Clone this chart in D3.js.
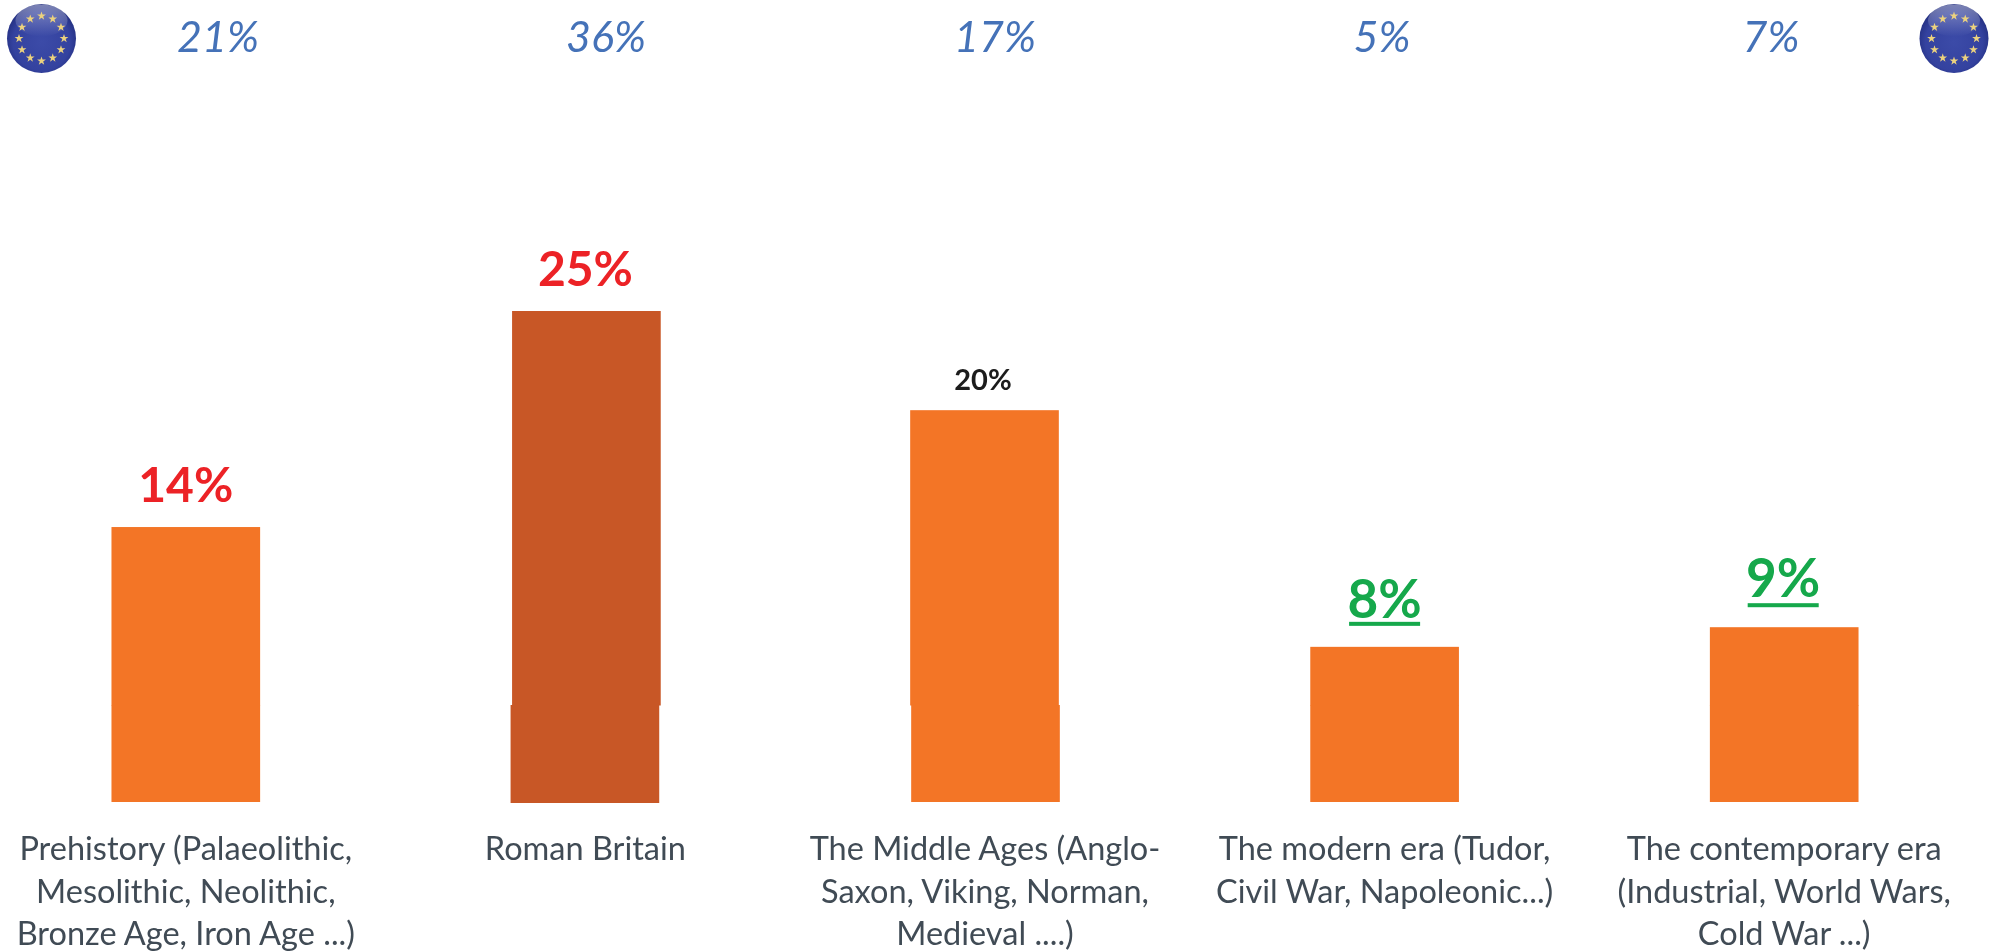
<!DOCTYPE html>
<html><head><meta charset="utf-8">
<style>html,body{margin:0;padding:0;background:#fff}svg{display:block}</style>
<script src="https://cdn.jsdelivr.net/npm/d3@7/dist/d3.min.js"></script>
</head><body><svg id="c" width="1998" height="952"></svg>
<script>
const categories = ["Prehistory","Roman Britain","The Middle Ages","The modern era","The contemporary era"];
const ukLabels = [14,25,20,8,9];
const ukHeights = [14,25,19.95,7.9,8.9];
const euValues = [21,36,17,5,7];
const categoryLabels = [
  ["Prehistory (Palaeolithic,","Mesolithic, Neolithic,","Bronze Age, Iron Age ...)"],
  ["Roman Britain"],
  ["The Middle Ages (Anglo-","Saxon, Viking, Norman,","Medieval ....)"],
  ["The modern era (Tudor,","Civil War, Napoleonic...)"],
  ["The contemporary era","(Industrial, World Wars,","Cold War ...)"]
];

const svg = d3.select("#c");
const baseY = 802;
const x = d3.scaleBand().domain(categories).range([-14,1984]).paddingInner(0.628).paddingOuter(0.314);
const y = d3.scaleLinear().domain([0,25]).range([baseY,311]);
const seamY = 705;

const labelStyle = [
  {fill:"#ec2227",size:48,gap:25,dx:0,ul:0},
  {fill:"#ec2227",size:48,gap:25,dx:0,ul:0},
  {fill:"#1a1a1a",size:29,gap:20,dx:-2,ul:0},
  {fill:"#12a84b",size:53,gap:29,dx:0,ul:23},
  {fill:"#12a84b",size:53,gap:30,dx:-1,ul:22}
];
const barFill = (d,i)=> i===1 ? "#c85726" : "#f37526";
const euCenters = [218,606,995,1382,1771];
const upperShift = [0,1,-0.5,0,0];
const lowerShift = [0,-0.5,0.5,0,0];

const defs = svg.append("defs");
const soft = defs.append("filter").attr("id","soft").attr("x","-5%").attr("y","-5%").attr("width","110%").attr("height","110%");
soft.append("feGaussianBlur").attr("stdDeviation",0.7);
const grad = defs.append("radialGradient").attr("id","flag").attr("cx","50%").attr("cy","55%").attr("r","55%");
grad.selectAll("stop").data([[0,"#3c4ba8"],[0.75,"#34429f"],[1,"#232f80"]]).join("stop")
  .attr("offset",d=>d[0]).attr("stop-color",d=>d[1]);
const gloss = defs.append("linearGradient").attr("id","gloss").attr("x1",0).attr("x2",0).attr("y1",0).attr("y2",1);
gloss.append("stop").attr("offset",0).attr("stop-color","#fff").attr("stop-opacity",0.4);
gloss.append("stop").attr("offset",1).attr("stop-color","#fff").attr("stop-opacity",0);

// bars: upper and lower pieces meet at a visible seam
const bars = svg.append("g").selectAll("g").data(ukHeights).join("g");
bars.append("rect")
  .attr("x",(d,i)=>x(categories[i])+upperShift[i]).attr("width",x.bandwidth())
  .attr("y",d=>y(d)).attr("height",d=>seamY-y(d)+0.5).attr("fill",barFill);
bars.append("rect")
  .attr("x",(d,i)=>x(categories[i])+lowerShift[i]).attr("width",x.bandwidth())
  .attr("y",seamY).attr("height",(d,i)=>y(0)-seamY+(i===1?1:0)).attr("fill",barFill);

// value labels
const valueGroup = svg.append("g").attr("filter","url(#soft)");
const center = i => x(categories[i])+x.bandwidth()/2+labelStyle[i].dx;
valueGroup.selectAll("text").data(ukLabels).join("text")
  .attr("x",(d,i)=>center(i))
  .attr("y",(d,i)=>y(ukHeights[i])-labelStyle[i].gap)
  .attr("text-anchor","middle")
  .attr("font-family","Lato").attr("font-weight",700)
  .attr("font-size",(d,i)=>labelStyle[i].size).attr("fill",(d,i)=>labelStyle[i].fill)
  .text(d=>d+"%");
valueGroup.selectAll("rect").data(d3.range(5).filter(i=>labelStyle[i].ul)).join("rect")
  .attr("x",i=>center(i)-35.5).attr("width",71)
  .attr("y",i=>y(ukHeights[i])-labelStyle[i].ul-2).attr("height",4)
  .attr("fill","#12a84b");

// EU values
svg.append("g").attr("filter","url(#soft)").selectAll("text").data(euValues).join("text")
  .attr("x",(d,i)=>euCenters[i])
  .attr("y",52)
  .attr("text-anchor","middle")
  .attr("font-family","Lato").attr("font-style","italic")
  .attr("font-size",43).attr("fill","#4472b8")
  .text(d=>d+"%");

// category labels
const cats = svg.append("g").attr("filter","url(#soft)").selectAll("text").data(categoryLabels).join("text")
  .attr("text-anchor","middle").attr("font-family","Lato").attr("font-size",32.5).attr("fill","#414b55");
cats.selectAll("tspan").data((d,i)=>d.map(t=>({t,i}))).join("tspan")
  .attr("x",d=>x(categories[d.i])+x.bandwidth()/2)
  .attr("y",(d,j)=>860+j*42.7)
  .text(d=>d.t);

// EU flags
const starPath = d3.symbol().type(d3.symbolStar).size(24)();
const flags = svg.append("g").selectAll("g").data([[41.5,38.5],[1954,38.5]]).join("g")
  .attr("transform",d=>`translate(${d[0]},${d[1]})`);
flags.append("circle").attr("r",34.5).attr("fill","url(#flag)");
flags.append("ellipse").attr("cy",-18).attr("rx",26).attr("ry",16).attr("fill","url(#gloss)");
flags.selectAll("path").data(d3.range(12)).join("path")
  .attr("d",starPath)
  .attr("transform",k=>{const a=k/12*2*Math.PI;return `translate(${22.5*Math.sin(a)},${-22.5*Math.cos(a)})`;})
  .attr("fill","#ecd27e");
</script></body></html>
